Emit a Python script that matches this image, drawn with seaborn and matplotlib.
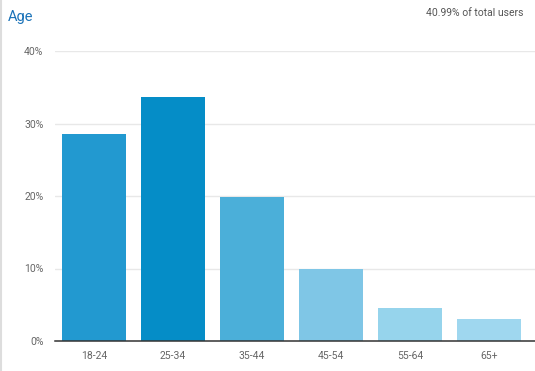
import matplotlib
matplotlib.use("Agg")
import matplotlib.pyplot as plt
import seaborn as sns
import pandas as pd
from matplotlib.ticker import FuncFormatter

categories = ["18-24", "25-34", "35-44", "45-54", "55-64", "65+"]
values = [28.55, 33.65, 19.85, 9.95, 4.55, 3.05]
colors = ["#2299d0", "#058dc7", "#4bafd9", "#7fc6e6", "#96d4ec", "#9fd7ef"]
yticks = [0, 10, 20, 30, 40]
title = "Age"
subtitle = "40.99% of total users"

sns.set_theme(style="white")
plt.rcParams["font.family"] = ["Roboto", "DejaVu Sans"]

df = pd.DataFrame({"age": categories, "pct": values})

fig = plt.figure(figsize=(5.35, 3.71), dpi=100)
ax = fig.add_axes([54.5 / 535, 30 / 371, (535 - 54.5) / 535, 290 / 371])
sns.barplot(data=df, x="age", y="pct", hue="age", palette=colors, legend=False,
            width=0.81, ax=ax, saturation=1, edgecolor="none")

ax.set_xlim(-0.5, 5.58)
ax.set_ylim(0, 40)
ax.set_yticks(yticks)
ax.yaxis.set_major_formatter(FuncFormatter(lambda v, p: f"{int(v)}%"))
ax.grid(axis="y", color="#e8e8e8", linewidth=1)
ax.set_axisbelow(True)
for s in ["top", "right", "left"]:
    ax.spines[s].set_visible(False)
ax.spines["bottom"].set_color("#333333")
ax.spines["bottom"].set_linewidth(1.1)
ax.tick_params(axis="both", length=0, labelsize=7.5, labelcolor="#666666")
ax.tick_params(axis="y", pad=8)
ax.tick_params(axis="x", pad=7.5)
ax.set_xlabel("")
ax.set_ylabel("")

fig.text(8 / 535, 1 - 17 / 371, title, color="#1a72b8", fontsize=10.5,
         ha="left", va="center")
fig.text(524 / 535, 1 - 13 / 371, subtitle, color="#555555", fontsize=7.5,
         ha="right", va="center")
fig.add_artist(plt.Line2D([0.8 / 535, 0.8 / 535], [0, 1], color="#dddddd",
                          linewidth=1.5, transform=fig.transFigure))

fig.savefig("out.png", dpi=100)
